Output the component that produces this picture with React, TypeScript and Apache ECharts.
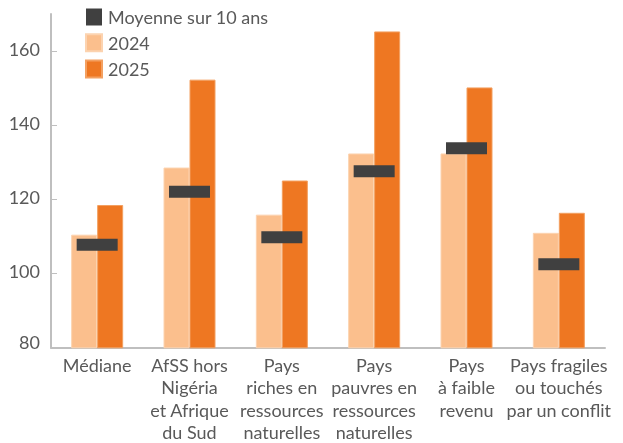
import React, { useEffect, useRef } from "react";
import * as echarts from "echarts";

const categories = [
  "Médiane",
  "AfSS hors\nNigéria\net Afrique\ndu Sud",
  "Pays\nriches en\nressources\nnaturelles",
  "Pays\npauvres en\nressources\nnaturelles",
  "Pays\nà faible\nrevenu",
  "Pays fragiles\nou touchés\npar un conflit",
];
const values2024 = [110.5, 128.6, 115.9, 132.4, 132.4, 111.0];
const values2025 = [118.5, 152.3, 125.1, 165.3, 150.2, 116.4];
const average10y = [107.8, 122.1, 109.8, 127.6, 133.8, 102.5];
const yTicks = [80, 100, 120, 140, 160];

const FONT = "Lato, 'Open Sans', sans-serif";
const TEXT = "#595959";

export default function App() {
  const ref = useRef<HTMLDivElement>(null);
  useEffect(() => {
    if (!ref.current) return;
    const chart = echarts.init(ref.current, null, { renderer: "svg" });
    chart.setOption({
      animation: false,
      textStyle: { fontFamily: FONT },
      legend: {
        orient: "vertical",
        left: 85,
        top: 8,
        padding: 0,
        itemWidth: 16,
        itemHeight: 17,
        itemGap: 7.3,
        textStyle: { fontSize: 18, color: TEXT, fontFamily: FONT, padding: [0, 0, 0, 1] },
        data: [
          { name: "Moyenne sur 10 ans", icon: "rect", itemStyle: { color: "#404040", opacity: 1 } },
          { name: "2024", icon: "rect" },
          { name: "2025", icon: "rect" },
        ],
      },
      grid: { left: 51, right: 18, top: 14, bottom: 95 },
      xAxis: {
        type: "category",
        data: categories,
        axisLine: { lineStyle: { color: "#BFBFBF", width: 2 } },
        axisTick: { show: false },
        axisLabel: {
          color: TEXT,
          fontSize: 18,
          lineHeight: 22.3,
          margin: 6,
          interval: 0,
          fontFamily: FONT,
        },
      },
      yAxis: {
        type: "value",
        min: 80,
        max: 170,
        interval: 20,
        splitLine: { show: false },
        axisLine: { show: true, lineStyle: { color: "#BFBFBF", width: 2 } },
        axisTick: {
          show: true,
          inside: true,
          length: 6,
          customValues: yTicks,
          lineStyle: { color: "#BFBFBF", width: 1 },
        },
        axisLabel: {
          color: TEXT,
          fontSize: 18,
          margin: 11,
          customValues: yTicks,
          fontFamily: FONT,
          formatter: (v: number) => (v === 80 ? `{b|${v}}` : `{a|${v}}`),
          rich: {
            a: { fontSize: 18, color: TEXT, fontFamily: FONT, padding: [0, 0, 5, 0] },
            b: { fontSize: 18, color: TEXT, fontFamily: FONT, padding: [0, 0, 12, 0] },
          },
        },
      },
      series: [
        {
          name: "2024",
          type: "bar",
          data: values2024,
          barWidth: 26,
          barGap: "0%",
          itemStyle: { color: "#FBBF8D", borderColor: "#FCD3B0", borderWidth: 1 },
          z: 2,
        },
        {
          name: "2025",
          type: "bar",
          data: values2025,
          barWidth: 26,
          barGap: "0%",
          itemStyle: { color: "#EE7722", borderColor: "#F3A061", borderWidth: 1 },
          z: 2,
        },
        {
          name: "Moyenne sur 10 ans",
          type: "scatter",
          data: average10y,
          symbol: "rect",
          symbolSize: [41, 12],
          itemStyle: { color: "#404040", opacity: 1 },
          emphasis: { disabled: true },
          z: 5,
        },
      ],
    });
    return () => chart.dispose();
  }, []);
  return (
    <div
      ref={ref}
      style={{ position: "fixed", left: 0, top: 0, width: 623, height: 443 }}
    />
  );
}
